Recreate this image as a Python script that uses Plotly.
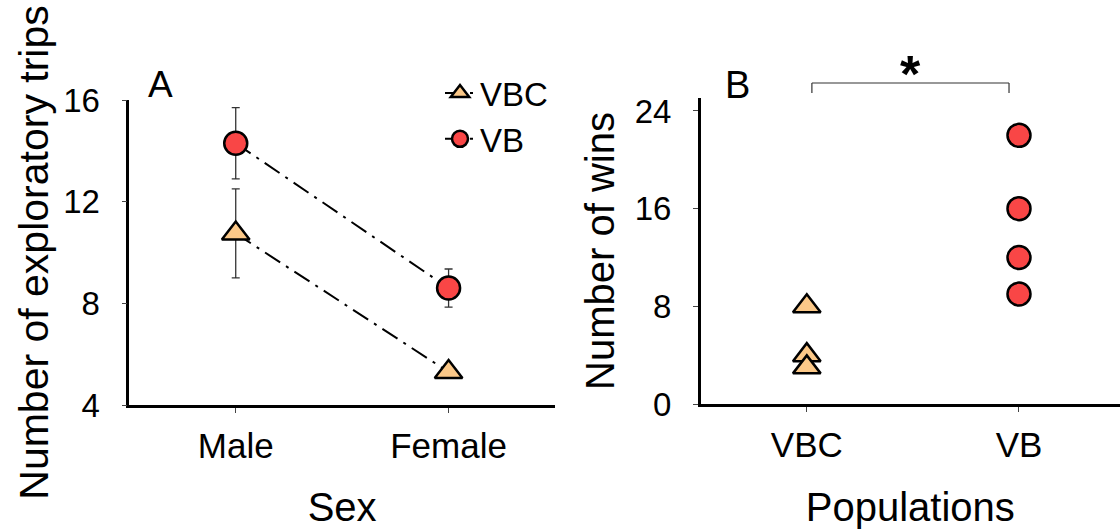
import plotly.graph_objects as go

# ---- Panel A data ----
sex = ["Male", "Female"]
vbc_trips = [10.75, 5.3]
vbc_err = [1.75, 0.25]
vb_trips = [14.3, 8.6]
vb_err = [1.4, 0.75]

# ---- Panel B data ----
populations = ["VBC", "VB"]
vbc_wins = [8, 4, 3]
vb_wins = [22, 16, 12, 9]

RED = "#F94646"
TAN = "#FBC888"
FONT = "Liberation Sans, Arial, sans-serif"
W, H = 1120, 529

def px_x(p):
    return p / W

def px_y(p):
    return (H - p) / H

dash = "18px,7px,3px,7px"

fig = go.Figure()

fig.add_trace(go.Scatter(
    x=sex, y=vbc_trips, name="VBC", mode="lines+markers",
    line=dict(color="black", width=2, dash=dash),
    marker=dict(symbol="triangle-up", size=24, color=TAN, line=dict(color="black", width=2.5)),
    error_y=dict(type="data", array=vbc_err, color="#333333", thickness=1.3, width=4),
    xaxis="x", yaxis="y",
))
fig.add_trace(go.Scatter(
    x=sex, y=vb_trips, name="VB", mode="lines+markers",
    line=dict(color="black", width=2, dash=dash),
    marker=dict(symbol="circle", size=23, color=RED, line=dict(color="black", width=2.5)),
    error_y=dict(type="data", array=vb_err, color="#333333", thickness=1.3, width=4),
    xaxis="x", yaxis="y",
))

fig.add_trace(go.Scatter(
    x=[populations[0]] * len(vbc_wins), y=vbc_wins, mode="markers", showlegend=False,
    marker=dict(symbol="triangle-up", size=24, color=TAN, line=dict(color="black", width=2.5)),
    xaxis="x2", yaxis="y2",
))
fig.add_trace(go.Scatter(
    x=[populations[1]] * len(vb_wins), y=vb_wins, mode="markers", showlegend=False,
    marker=dict(symbol="circle", size=23, color=RED, line=dict(color="black", width=2.5)),
    xaxis="x2", yaxis="y2",
))

axis_common = dict(
    showline=True, linecolor="black", linewidth=2.5, showgrid=False, zeroline=False,
    ticks="outside", ticklen=5, tickwidth=1, tickcolor="#444444",
    tickfont=dict(family=FONT, size=35, color="black"),
    title_font=dict(family=FONT, size=40, color="black"),
    automargin=False,
)

fig.update_layout(
    width=W, height=H,
    margin=dict(l=0, r=0, t=0, b=0, autoexpand=False),
    paper_bgcolor="white", plot_bgcolor="white",
    font=dict(family=FONT, color="black"),
    showlegend=True,
    legend=dict(
        x=px_x(440), y=px_y(65), xanchor="left", yanchor="top",
        font=dict(family=FONT, size=33, color="black"),
        bgcolor="rgba(0,0,0,0)", borderwidth=0,
    ),
    xaxis=dict(
        axis_common, domain=[px_x(129.3), px_x(555)], anchor="y",
        type="category", categoryorder="array", categoryarray=sex,
        range=[-0.5, 1.5], ticklabelstandoff=3,
        title=dict(text="Sex", standoff=38),
    ),
    yaxis=dict(
        axis_common, domain=[px_y(405), px_y(100)], anchor="x",
        range=[4, 16], tickvals=[4, 8, 12, 16], ticklabelstandoff=15,
        tickfont=dict(family=FONT, size=33, color="black"),
        title=dict(text="Number of exploratory trips", font=dict(family=FONT, size=41, color="black"), standoff=2),
    ),
    xaxis2=dict(
        axis_common, domain=[px_x(700.7), 1.0], anchor="y2",
        type="category", categoryorder="array", categoryarray=populations,
        range=[-0.5, 1.476], ticklabelstandoff=3,
        title=dict(text="Populations", standoff=34),
    ),
    yaxis2=dict(
        axis_common, domain=[px_y(404), px_y(98)], anchor="x2",
        range=[0, 25.06], tickvals=[0, 8, 16, 24], ticklabelstandoff=15,
        tickfont=dict(family=FONT, size=33, color="black"),
        title=dict(text="Number of wins", standoff=8),
    ),
)

# panel letters
fig.add_annotation(text="A", x=px_x(160), y=px_y(85), xref="paper", yref="paper",
                   xanchor="center", yanchor="middle",
                   showarrow=False, font=dict(family=FONT, size=37, color="black"))
fig.add_annotation(text="B", x=px_x(737), y=px_y(85), xref="paper", yref="paper",
                   xanchor="center", yanchor="middle",
                   showarrow=False, font=dict(family=FONT, size=38, color="black"))

# significance bracket
bx0, bx1 = 0.024, 0.953
ytop, ybot = px_y(83), px_y(93)
for (x0, y0, x1, y1) in [(bx0, ytop, bx1, ytop), (bx0, ytop, bx0, ybot), (bx1, ytop, bx1, ybot)]:
    fig.add_shape(type="line", xref="x2", yref="paper", x0=x0, y0=y0, x1=x1, y1=y1,
                  line=dict(color="#333333", width=1.2))
fig.add_annotation(text="<b>*</b>", x=0.487, y=px_y(105), xref="x2", yref="paper",
                   xanchor="center", yanchor="bottom", showarrow=False,
                   font=dict(family=FONT, size=52, color="black"))

fig.write_html("out.html")
